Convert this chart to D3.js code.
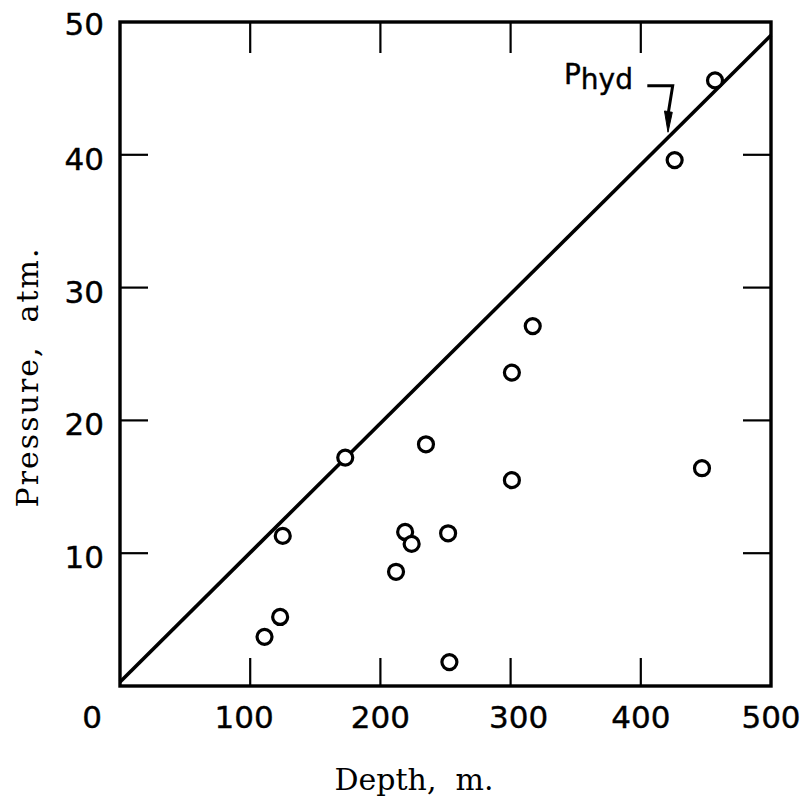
<!DOCTYPE html>
<html>
<head>
<meta charset="utf-8">
<script src="https://cdn.jsdelivr.net/npm/d3@7"></script>
<style>
  body { margin: 0; background: #fff; }
  svg { display: block; }
</style>
</head>
<body>
<div id="chart"></div>
<script>
// data
const depth = [111, 123, 125, 173, 212, 219, 224, 235, 252, 253, 301, 301, 317, 426, 447, 457]
const pressure = [3.7, 5.2, 11.3, 17.2, 8.6, 11.6, 10.7, 18.2, 11.5, 1.8, 23.6, 15.5, 27.1, 39.6, 16.4, 45.6]
const hydLine = [[0, 0.3], [500, 49.0]]
const xTicks = [0, 100, 200, 300, 400, 500]
const yTicks = [10, 20, 30, 40, 50]
const tickMarksX = [100, 200, 300, 400]
const tickMarksY = [10, 20, 30, 40]

const W = 809, H = 806
const svg = d3.select("#chart").append("svg").attr("width", W).attr("height", H)

const x = d3.scaleLinear().domain([0, 500]).range([120, 771])
const y = d3.scaleLinear().domain([0, 50]).range([686, 22])

const g = svg.append("g")

// frame
g.append("rect").attr("x", x(0)).attr("y", y(50))
    .attr("width", x(500) - x(0)).attr("height", y(0) - y(50))
    .attr("fill", "none").attr("stroke", "#000").attr("stroke-width", 3.4)

// inside ticks on all four sides
const tl = 28
tickMarksX.forEach(v => {
    g.append("line").attr("x1", x(v)).attr("x2", x(v)).attr("y1", y(0)).attr("y2", y(0) - tl)
        .attr("stroke", "#000").attr("stroke-width", 2.2)
    g.append("line").attr("x1", x(v)).attr("x2", x(v)).attr("y1", y(50)).attr("y2", y(50) + tl + 3)
        .attr("stroke", "#000").attr("stroke-width", 2.2)
})
tickMarksY.forEach(v => {
    g.append("line").attr("x1", x(0)).attr("x2", x(0) + tl).attr("y1", y(v)).attr("y2", y(v))
        .attr("stroke", "#000").attr("stroke-width", 2.2)
    g.append("line").attr("x1", x(500)).attr("x2", x(500) - tl).attr("y1", y(v)).attr("y2", y(v))
        .attr("stroke", "#000").attr("stroke-width", 2.2)
})

// tick labels
const numFont = "'DejaVu Sans', sans-serif"
g.selectAll(".xl").data(xTicks).enter().append("text")
    .attr("x", d => d == 0 ? x(d) - 28 : x(d) - (d == 100 ? 6 : 0) + (d == 300 ? 8 : 0))
    .attr("y", 728)
    .attr("text-anchor", "middle")
    .attr("font-family", numFont).attr("font-size", 31)
    .attr("stroke", "#000").attr("stroke-width", 0.4)
    .text(d => d)

g.selectAll(".yl").data(yTicks).enter().append("text")
    .attr("x", 104)
    .attr("y", d => d == 50 ? y(d) + 13 : y(d) + 15)
    .attr("text-anchor", "end")
    .attr("font-family", numFont).attr("font-size", 31)
    .attr("stroke", "#000").attr("stroke-width", 0.4)
    .text(d => d)

// hydrostatic line
const line = d3.line().x(d => x(d[0])).y(d => y(d[1]))
g.append("path").attr("d", line(hydLine))
    .attr("fill", "none").attr("stroke", "#000").attr("stroke-width", 3.6)

// points
g.selectAll("circle").data(depth).enter().append("circle")
    .attr("cx", d => x(d))
    .attr("cy", (d, i) => y(pressure[i]))
    .attr("r", 7.5)
    .attr("fill", "#fff").attr("stroke", "#000").attr("stroke-width", 3.2)

// P_hyd annotation
const lab = g.append("text").attr("x", x(341)).attr("y", y(45.3))
    .attr("font-family", numFont).attr("font-size", 28)
    .attr("stroke", "#000").attr("stroke-width", 0.4)
lab.append("tspan").text("P")
lab.append("tspan").attr("dy", 5).text("hyd")

g.append("path")
    .attr("d", d3.line()([[x(405), y(45.2)], [x(424.5), y(45.2)], [x(421.2), y(43.2)]]))
    .attr("fill", "none").attr("stroke", "#000").attr("stroke-width", 3)
g.append("path")
    .attr("d", `M${x(418.2)},${y(43.3)} L${x(424.2)},${y(43.2)} L${x(420.9)},${y(41.7)} Z`)
    .attr("fill", "#000").attr("stroke", "#000").attr("stroke-width", 1)

// axis titles
const serif = "'DejaVu Serif', serif"
g.append("text").attr("x", 414).attr("y", 790)
    .attr("text-anchor", "middle")
    .attr("font-family", serif).attr("font-size", 30)
    .style("white-space", "pre")
    .text("Depth,  m.")

g.append("text").attr("transform", "translate(38,377) rotate(-90)")
    .attr("text-anchor", "middle")
    .attr("font-family", serif).attr("font-size", 30)
    .attr("letter-spacing", 2)
    .style("white-space", "pre")
    .text("Pressure,  atm.")
</script>
</body>
</html>
